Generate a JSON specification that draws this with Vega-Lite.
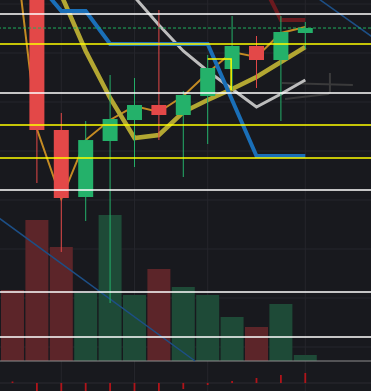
{
  "$schema": "https://vega.github.io/schema/vega-lite/v6.json",
  "width": 371,
  "height": 391,
  "autosize": {"type": "fit", "contains": "padding"},
  "padding": 0,
  "background": "#18191e",
  "config": {"view": {"stroke": null}, "scale": {"continuousPadding": 0}},
  "resolve": {"scale": {"y": "independent"}},
  "datasets": {
    "candles": [
      {"i": 1, "o": 148.98, "h": 151.02, "l": 103.47, "c": 114.29},
      {"i": 2, "o": 114.29, "h": 117.76, "l": 89.39, "c": 100.41},
      {"i": 3, "o": 100.61, "h": 116.12, "l": 95.71, "c": 112.24},
      {"i": 4, "o": 112.04, "h": 125.51, "l": 78.98, "c": 116.53},
      {"i": 5, "o": 116.33, "h": 124.9, "l": 106.73, "c": 119.39},
      {"i": 6, "o": 119.39, "h": 138.78, "l": 112.24, "c": 117.35},
      {"i": 7, "o": 117.35, "h": 122.24, "l": 104.69, "c": 121.43},
      {"i": 8, "o": 121.22, "h": 129.59, "l": 111.43, "c": 126.94},
      {"i": 9, "o": 126.73, "h": 137.55, "l": 122.45, "c": 131.43},
      {"i": 10, "o": 131.43, "h": 133.47, "l": 122.86, "c": 128.57},
      {"i": 11, "o": 128.57, "h": 137.55, "l": 116.12, "c": 134.29},
      {"i": 12, "o": 134.08, "h": 136.33, "l": 130.82, "c": 135.1}
    ],
    "volume": [
      {"i": 0, "v": 35.5, "dir": "down"},
      {"i": 1, "v": 70.5, "dir": "down"},
      {"i": 2, "v": 57, "dir": "down"},
      {"i": 3, "v": 34, "dir": "up"},
      {"i": 4, "v": 73, "dir": "up"},
      {"i": 5, "v": 33, "dir": "up"},
      {"i": 6, "v": 46, "dir": "down"},
      {"i": 7, "v": 37, "dir": "up"},
      {"i": 8, "v": 33, "dir": "up"},
      {"i": 9, "v": 22, "dir": "up"},
      {"i": 10, "v": 17, "dir": "down"},
      {"i": 11, "v": 28.5, "dir": "up"},
      {"i": 12, "v": 3, "dir": "up"}
    ],
    "macd": [
      {"i": 0, "m": 0.15},
      {"i": 1, "m": -1.5},
      {"i": 2, "m": -1.5},
      {"i": 3, "m": -1.5},
      {"i": 4, "m": -1.5},
      {"i": 5, "m": -1.5},
      {"i": 6, "m": -1.5},
      {"i": 7, "m": -0.6},
      {"i": 8, "m": -0.2},
      {"i": 9, "m": 0.2},
      {"i": 10, "m": 0.5},
      {"i": 11, "m": 0.8},
      {"i": 12, "m": 1.0}
    ],
    "lines": [
      {"s": "orange", "k": 0, "i": 0, "p": 156.12},
      {"s": "orange", "k": 1, "i": 1, "p": 114.49},
      {"s": "orange", "k": 2, "i": 2, "p": 100.2},
      {"s": "orange", "k": 3, "i": 3, "p": 112.24},
      {"s": "orange", "k": 4, "i": 4, "p": 116.33},
      {"s": "orange", "k": 5, "i": 5, "p": 119.18},
      {"s": "orange", "k": 6, "i": 6, "p": 117.96},
      {"s": "orange", "k": 7, "i": 7, "p": 121.22},
      {"s": "orange", "k": 8, "i": 8, "p": 125.92},
      {"s": "orange", "k": 9, "i": 9, "p": 130.2},
      {"s": "orange", "k": 10, "i": 10, "p": 129.18},
      {"s": "orange", "k": 11, "i": 11, "p": 134.08},
      {"s": "orange", "k": 12, "i": 12, "p": 135.31},
      {"s": "olive", "k": 1, "i": 1, "p": 153.27},
      {"s": "olive", "k": 2, "i": 2, "p": 141.84},
      {"s": "olive", "k": 3, "i": 3, "p": 130.41},
      {"s": "olive", "k": 4, "i": 4, "p": 120.82},
      {"s": "olive", "k": 5, "i": 5, "p": 112.65},
      {"s": "olive", "k": 6, "i": 6, "p": 113.27},
      {"s": "olive", "k": 7, "i": 7, "p": 117.96},
      {"s": "olive", "k": 8, "i": 8, "p": 120.41},
      {"s": "olive", "k": 9, "i": 9, "p": 122.65},
      {"s": "olive", "k": 10, "i": 10, "p": 125.1},
      {"s": "olive", "k": 11, "i": 11, "p": 128.16},
      {"s": "olive", "k": 12, "i": 12, "p": 131.22},
      {"s": "blue", "k": 1, "i": 1, "p": 144.49},
      {"s": "blue", "k": 2, "i": 2, "p": 138.57},
      {"s": "blue", "k": 3, "i": 3, "p": 138.57},
      {"s": "blue", "k": 4, "i": 4, "p": 131.84},
      {"s": "blue", "k": 5, "i": 5, "p": 131.84},
      {"s": "blue", "k": 6, "i": 6, "p": 131.84},
      {"s": "blue", "k": 7, "i": 7, "p": 131.84},
      {"s": "blue", "k": 8, "i": 8, "p": 131.84},
      {"s": "blue", "k": 9, "i": 9, "p": 120.41},
      {"s": "blue", "k": 10, "i": 10, "p": 108.98},
      {"s": "blue", "k": 11, "i": 11, "p": 108.98},
      {"s": "blue", "k": 12, "i": 12, "p": 108.98},
      {"s": "gray", "k": 4, "i": 4, "p": 147.35},
      {"s": "gray", "k": 5, "i": 5, "p": 141.43},
      {"s": "gray", "k": 6, "i": 6, "p": 135.71},
      {"s": "gray", "k": 7, "i": 7, "p": 130.41},
      {"s": "gray", "k": 8, "i": 8, "p": 126.33},
      {"s": "gray", "k": 9, "i": 9, "p": 122.65},
      {"s": "gray", "k": 10, "i": 10, "p": 118.98},
      {"s": "gray", "k": 11, "i": 11, "p": 121.63},
      {"s": "gray", "k": 12, "i": 12, "p": 124.49},
      {"s": "darkred", "k": 10, "i": 10, "p": 146.73},
      {"s": "darkred", "k": 11, "i": 11, "p": 136.73},
      {"s": "darkred", "k": 12, "i": 12, "p": 136.73},
      {"s": "gA", "k": 0, "i": 11.04, "p": 123.88},
      {"s": "gA", "k": 1, "i": 13.95, "p": 123.47},
      {"s": "gB", "k": 0, "i": 11.17, "p": 120.61},
      {"s": "gB", "k": 1, "i": 12.93, "p": 121.63},
      {"s": "gB", "k": 2, "i": 13.01, "p": 122.04},
      {"s": "gB", "k": 3, "i": 13.01, "p": 125.92},
      {"s": "yl", "k": 0, "i": 8, "p": 128.78},
      {"s": "yl", "k": 1, "i": 8.96, "p": 128.78},
      {"s": "yl", "k": 2, "i": 8.96, "p": 122.45},
      {"s": "dL", "k": 0, "i": -1, "p": 97.94},
      {"s": "dL", "k": 1, "i": 7.48, "p": 67.14},
      {"s": "dR", "k": 0, "i": 12, "p": 143.0},
      {"s": "dR", "k": 1, "i": 15, "p": 132.39}
    ],
    "gridh": [{"p": 140}, {"p": 130}, {"p": 120}, {"p": 110}, {"p": 100}, {"p": 90}, {"p": 80}, {"p": 70}],
    "gridv": [{"i": 2}, {"i": 5}, {"i": 8}, {"i": 12}],
    "hlines": [
      {"p": 137.96, "kind": "white"},
      {"p": 121.84, "kind": "white"},
      {"p": 102.04, "kind": "white"},
      {"p": 81.22, "kind": "white"},
      {"p": 72.04, "kind": "white"},
      {"p": 131.84, "kind": "yellow"},
      {"p": 115.31, "kind": "yellow"},
      {"p": 108.57, "kind": "yellow"}
    ],
    "dashed": [{"p": 135.1}]
  },
  "layer": [
    {
      "data": {"name": "gridh"},
      "mark": {"type": "rule", "color": "#25262c", "strokeWidth": 1, "clip": true},
      "encoding": {
        "y": {"field": "p", "type": "quantitative", "scale": {"domain": [61.02, 140.82], "nice": false, "zero": false}, "axis": null}
      }
    },
    {
      "data": {"name": "gridv"},
      "mark": {"type": "rule", "color": "#25262c", "strokeWidth": 1, "clip": true},
      "encoding": {
        "x": {"field": "i", "type": "quantitative", "scale": {"domain": [-0.512, 14.693], "nice": false, "zero": false, "padding": 0}, "axis": null}
      }
    },
    {
      "data": {"name": "volume"},
      "mark": {"type": "bar", "orient": "vertical", "size": 23, "clip": true},
      "encoding": {
        "x": {"field": "i", "type": "quantitative", "scale": {"domain": [-0.512, 14.693], "nice": false, "zero": false, "padding": 0}, "axis": null},
        "y": {"field": "v", "type": "quantitative", "scale": {"domain": [-15, 180.5], "nice": false, "zero": false}, "axis": null},
        "y2": {"datum": 0},
        "color": {"condition": {"test": "datum.dir === 'up'", "value": "#1e4a37"}, "value": "#5c2529"}
      }
    },
    {
      "data": {"values": [{"z": 0}]},
      "mark": {"type": "rule", "color": "#8e8e8e", "strokeWidth": 1, "clip": true},
      "encoding": {
        "y": {"field": "z", "type": "quantitative", "scale": {"domain": [-15, 180.5], "nice": false, "zero": false}, "axis": null}
      }
    },
    {
      "data": {"values": [{"z": 0}]},
      "mark": {"type": "rule", "color": "#2a2b31", "strokeWidth": 1, "clip": true},
      "encoding": {
        "y": {"field": "z", "type": "quantitative", "scale": {"domain": [-0.8, 38.3], "nice": false, "zero": false}, "axis": null}
      }
    },
    {
      "data": {"name": "macd"},
      "mark": {"type": "rule", "color": "#b0141a", "strokeWidth": 1.8, "clip": true},
      "encoding": {
        "x": {"field": "i", "type": "quantitative", "scale": {"domain": [-0.512, 14.693], "nice": false, "zero": false, "padding": 0}, "axis": null},
        "y": {"field": "m", "type": "quantitative", "scale": {"domain": [-0.8, 38.3], "nice": false, "zero": false}, "axis": null},
        "y2": {"datum": 0}
      }
    },
    {
      "data": {"name": "lines"},
      "transform": [{"filter": "datum.s === 'dL' || datum.s === 'dR'"}],
      "mark": {"type": "line", "color": "#1d4f86", "strokeWidth": 1.5, "clip": true},
      "encoding": {
        "x": {"field": "i", "type": "quantitative", "scale": {"domain": [-0.512, 14.693], "nice": false, "zero": false, "padding": 0}, "axis": null},
        "y": {"field": "p", "type": "quantitative", "scale": {"domain": [61.02, 140.82], "nice": false, "zero": false}, "axis": null},
        "detail": {"field": "s"},
        "order": {"field": "k"}
      }
    },
    {
      "data": {"name": "lines"},
      "transform": [{"filter": "datum.s === 'gA' || datum.s === 'gB'"}],
      "mark": {"type": "line", "color": "#3a3a3b", "strokeWidth": 2, "clip": true},
      "encoding": {
        "x": {"field": "i", "type": "quantitative", "scale": {"domain": [-0.512, 14.693], "nice": false, "zero": false, "padding": 0}, "axis": null},
        "y": {"field": "p", "type": "quantitative", "scale": {"domain": [61.02, 140.82], "nice": false, "zero": false}, "axis": null},
        "detail": {"field": "s"},
        "order": {"field": "k"}
      }
    },
    {
      "data": {"name": "lines"},
      "transform": [{"filter": "datum.s === 'gray'"}],
      "mark": {"type": "line", "color": "#bdbdbd", "strokeWidth": 3, "clip": true},
      "encoding": {
        "x": {"field": "i", "type": "quantitative", "scale": {"domain": [-0.512, 14.693], "nice": false, "zero": false, "padding": 0}, "axis": null},
        "y": {"field": "p", "type": "quantitative", "scale": {"domain": [61.02, 140.82], "nice": false, "zero": false}, "axis": null},
        "order": {"field": "k"}
      }
    },
    {
      "data": {"name": "lines"},
      "transform": [{"filter": "datum.s === 'orange'"}],
      "mark": {"type": "line", "color": "#c48b23", "strokeWidth": 2, "clip": true},
      "encoding": {
        "x": {"field": "i", "type": "quantitative", "scale": {"domain": [-0.512, 14.693], "nice": false, "zero": false, "padding": 0}, "axis": null},
        "y": {"field": "p", "type": "quantitative", "scale": {"domain": [61.02, 140.82], "nice": false, "zero": false}, "axis": null},
        "order": {"field": "k"}
      }
    },
    {
      "data": {"name": "lines"},
      "transform": [{"filter": "datum.s === 'olive'"}],
      "mark": {"type": "line", "color": "#b3a732", "strokeWidth": 4.5, "clip": true},
      "encoding": {
        "x": {"field": "i", "type": "quantitative", "scale": {"domain": [-0.512, 14.693], "nice": false, "zero": false, "padding": 0}, "axis": null},
        "y": {"field": "p", "type": "quantitative", "scale": {"domain": [61.02, 140.82], "nice": false, "zero": false}, "axis": null},
        "order": {"field": "k"}
      }
    },
    {
      "data": {"name": "lines"},
      "transform": [{"filter": "datum.s === 'blue'"}],
      "mark": {"type": "line", "color": "#1a6fb8", "strokeWidth": 4, "clip": true},
      "encoding": {
        "x": {"field": "i", "type": "quantitative", "scale": {"domain": [-0.512, 14.693], "nice": false, "zero": false, "padding": 0}, "axis": null},
        "y": {"field": "p", "type": "quantitative", "scale": {"domain": [61.02, 140.82], "nice": false, "zero": false}, "axis": null},
        "order": {"field": "k"}
      }
    },
    {
      "data": {"name": "lines"},
      "transform": [{"filter": "datum.s === 'darkred'"}],
      "mark": {"type": "line", "color": "#6a1a1f", "strokeWidth": 4, "clip": true},
      "encoding": {
        "x": {"field": "i", "type": "quantitative", "scale": {"domain": [-0.512, 14.693], "nice": false, "zero": false, "padding": 0}, "axis": null},
        "y": {"field": "p", "type": "quantitative", "scale": {"domain": [61.02, 140.82], "nice": false, "zero": false}, "axis": null},
        "order": {"field": "k"}
      }
    },
    {
      "data": {"name": "candles"},
      "mark": {"type": "rule", "strokeWidth": 1, "clip": true},
      "encoding": {
        "x": {"field": "i", "type": "quantitative", "scale": {"domain": [-0.512, 14.693], "nice": false, "zero": false, "padding": 0}, "axis": null},
        "y": {"field": "l", "type": "quantitative", "scale": {"domain": [61.02, 140.82], "nice": false, "zero": false}, "axis": null},
        "y2": {"field": "h"},
        "color": {"condition": {"test": "datum.c >= datum.o", "value": "#24b16a"}, "value": "#e34848"}
      }
    },
    {
      "data": {"name": "candles"},
      "mark": {"type": "bar", "orient": "vertical", "size": 15, "clip": true},
      "encoding": {
        "x": {"field": "i", "type": "quantitative", "scale": {"domain": [-0.512, 14.693], "nice": false, "zero": false, "padding": 0}, "axis": null},
        "y": {"field": "o", "type": "quantitative", "scale": {"domain": [61.02, 140.82], "nice": false, "zero": false}, "axis": null},
        "y2": {"field": "c"},
        "color": {"condition": {"test": "datum.c >= datum.o", "value": "#24b16a"}, "value": "#e34848"}
      }
    },
    {
      "data": {"name": "hlines"},
      "mark": {"type": "rule", "strokeWidth": 1.5, "clip": true},
      "encoding": {
        "y": {"field": "p", "type": "quantitative", "scale": {"domain": [61.02, 140.82], "nice": false, "zero": false}, "axis": null},
        "color": {"condition": {"test": "datum.kind === 'yellow'", "value": "#ffff00"}, "value": "#ffffff"}
      }
    },
    {
      "data": {"name": "dashed"},
      "mark": {"type": "rule", "strokeWidth": 1, "color": "#1fae5d", "strokeDash": [3, 2], "clip": true},
      "encoding": {
        "y": {"field": "p", "type": "quantitative", "scale": {"domain": [61.02, 140.82], "nice": false, "zero": false}, "axis": null}
      }
    },
    {
      "data": {"name": "lines"},
      "transform": [{"filter": "datum.s === 'yl'"}],
      "mark": {"type": "line", "color": "#ffff00", "strokeWidth": 1.5, "clip": true},
      "encoding": {
        "x": {"field": "i", "type": "quantitative", "scale": {"domain": [-0.512, 14.693], "nice": false, "zero": false, "padding": 0}, "axis": null},
        "y": {"field": "p", "type": "quantitative", "scale": {"domain": [61.02, 140.82], "nice": false, "zero": false}, "axis": null},
        "order": {"field": "k"}
      }
    }
  ]
}
